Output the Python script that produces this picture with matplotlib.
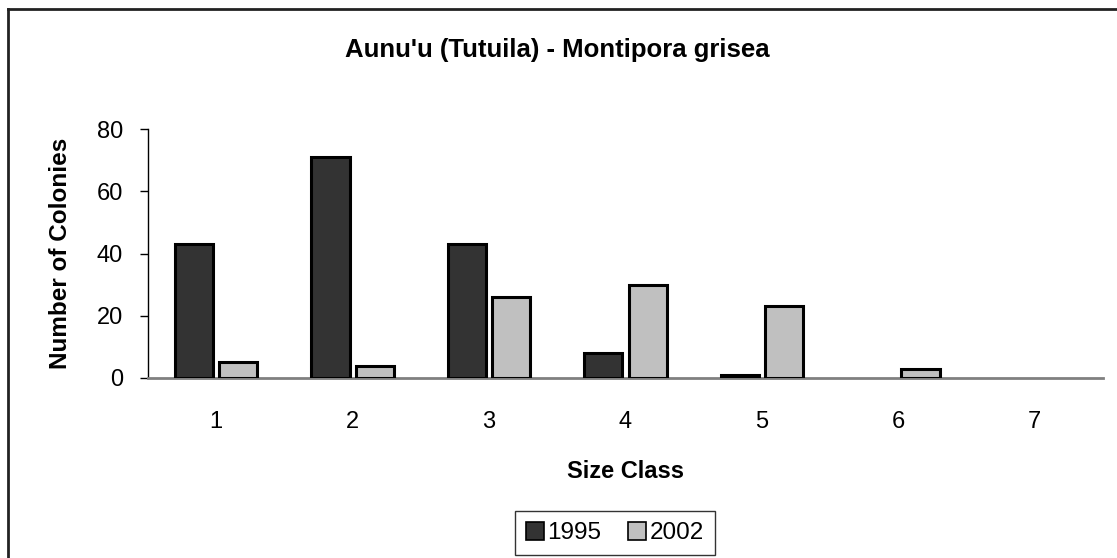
import matplotlib
matplotlib.use("Agg")
import matplotlib.pyplot as plt
from matplotlib.lines import Line2D
import numpy as np

plt.rcParams['font.family'] = ['Liberation Sans', 'DejaVu Sans']

categories = ['1', '2', '3', '4', '5', '6', '7']
series_names = ['1995', '2002']
values_1995 = [43, 71, 43, 8, 1, 0, 0]
values_2002 = [5, 4, 26, 30, 23, 3, 0]
yticks = [0, 20, 40, 60, 80]

W, H = 1117, 558
fig = plt.figure(figsize=(W / 100, H / 100), dpi=100)
ax = fig.add_axes([148 / W, 1 - 378 / H, (1103 - 148) / W, (378 - 129) / H])

x = np.arange(len(categories))
bw = 0.28
gap = 0.045
colors = ['#333333', '#c0c0c0']
for i, (vals, c) in enumerate(zip([values_1995, values_2002], colors)):
    off = (-1 if i == 0 else 1) * (bw + gap) / 2
    nz = [j for j, v in enumerate(vals) if v > 0]
    ax.bar(x[nz] + off, [vals[j] for j in nz], width=bw, color=c,
           edgecolor='black', linewidth=2.2, label=series_names[i], zorder=3)

ax.set_xlim(-0.5, len(categories) - 0.5)
ax.set_ylim(0, 80)
ax.set_yticks(yticks)
ax.set_xticks(x)
ax.set_xticklabels(categories)
ax.tick_params(axis='y', direction='out', length=6, width=1, labelsize=17, pad=12, color='black')
ax.tick_params(axis='x', length=0, labelsize=17, pad=24)
for s in ['top', 'right']:
    ax.spines[s].set_visible(False)
ax.spines['bottom'].set_color('#808080')
ax.spines['bottom'].set_linewidth(2)
ax.spines['left'].set_color('black')
ax.spines['left'].set_linewidth(1)

ax.set_xlabel('Size Class', fontsize=17, fontweight='bold', labelpad=19)
ax.set_ylabel('Number of Colonies', fontsize=17.5, fontweight='bold', labelpad=18)

fig.text(557 / W, 1 - 50 / H, "Aunu'u (Tutuila) - Montipora grisea", ha='center', va='center',
         fontsize=18.5, fontweight='bold')

handles = [plt.Rectangle((0, 0), 1, 1, facecolor=c, edgecolor='black', linewidth=1.2) for c in colors]
leg = fig.legend(handles, series_names, loc='center', bbox_to_anchor=(615 / W, 1 - 533 / H),
                 ncol=2, fontsize=17.5, frameon=True, fancybox=False, edgecolor='black',
                 handlelength=0.75, handleheight=0.75, handletextpad=0.15, columnspacing=1.1,
                 borderpad=0.45, borderaxespad=0)
leg.get_frame().set_linewidth(1)

fig.add_artist(Line2D([8 / W, 8 / W], [0, 1 - 9 / H], transform=fig.transFigure, color='#222222', linewidth=2))
fig.add_artist(Line2D([8 / W, 1], [1 - 9 / H, 1 - 9 / H], transform=fig.transFigure, color='#222222', linewidth=2))

fig.savefig('out.png', dpi=100)
